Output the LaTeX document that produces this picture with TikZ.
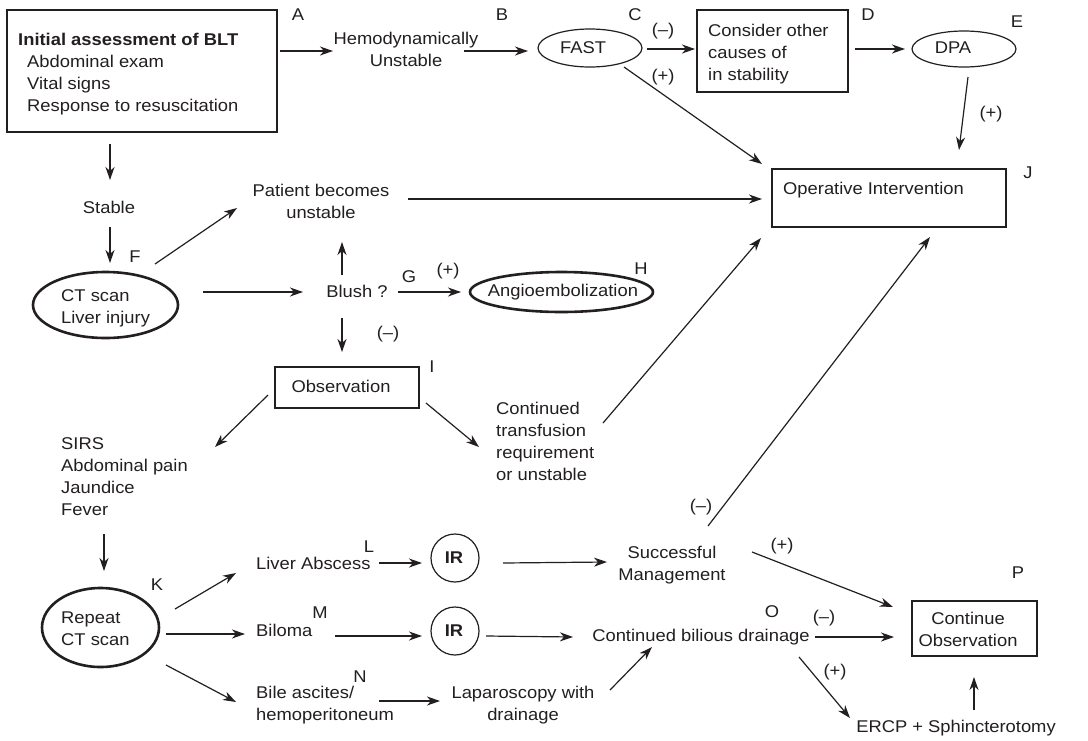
\documentclass[tikz,border=0pt]{standalone}
\usepackage{fontspec}
\setmainfont{Liberation Sans}[FakeStretch=1.08]
\usetikzlibrary{shapes.geometric,arrows.meta,calc}
\definecolor{ink}{HTML}{231F20}
\newcommand\fs{\fontsize{17pt}{22pt}\selectfont}
% arrow between two named points, each given with an offset
\newcommand\conn[4]{\draw[arr] ($(#1)+(#2)$) -- ($(#3)+(#4)$);}
\begin{document}
\begin{tikzpicture}[x=1pt,y=-1pt,
  every node/.style={font=\fs, inner sep=0pt, text=ink},
  arr/.style={draw=ink, line width=1.2pt, -{Stealth[length=13pt,width=9pt,inset=4pt]}},
  heavybox/.style={draw=ink, line width=2.6pt, rectangle},
  heavyoval/.style={draw=ink, line width=2.6pt, ellipse},
  lightoval/.style={draw=ink, line width=1.2pt, ellipse},
  lightcirc/.style={draw=ink, line width=1.2pt, circle, minimum size=48pt},
  tag/.style={font=\fs}]
\fill[white] (0,0) rectangle (1088,740);
\useasboundingbox (0,0) rectangle (1088,740);

% ---- frames and ovals ----
\node[heavybox, minimum width=270pt, minimum height=122pt] (init) at (142,71) {};
\node[lightoval, minimum width=104pt, minimum height=38pt] (fast) at (590,48) {};
\node[heavybox, minimum width=151pt, minimum height=82pt] (consider) at (772.5,51) {};
\node[lightoval, minimum width=104pt, minimum height=36pt] (dpa) at (964,49) {};
\node[heavybox, minimum width=234pt, minimum height=58pt] (oper) at (889,198) {};
\node[heavyoval, minimum width=145pt, minimum height=66pt] (ct) at (105.5,305) {};
\node[heavyoval, minimum width=183pt, minimum height=40pt] (angio) at (561.5,292) {};
\node[heavybox, minimum width=144pt, minimum height=41pt] (obs) at (347,387.5) {};
\node[heavyoval, minimum width=117pt, minimum height=79pt] (rep) at (100.5,627.5) {};
\node[lightcirc] (irA) at (455,558) {};
\node[lightcirc] (irB) at (455,631) {};
\node[heavybox, minimum width=125pt, minimum height=55pt] (cobs) at (974.5,628.5) {};

% ---- texts ----
\node[anchor=west, align=left] (initT) at (18,74)
  {\textbf{Initial assessment of BLT}\\\hspace*{9pt}Abdominal exam\\\hspace*{9pt}Vital signs\\\hspace*{9pt}Response to resuscitation};
\node[align=center] (hemo) at (406,49) {Hemodynamically\\Unstable};
\node (fastT) at (583,48) {FAST};
\node[anchor=west, align=left] (considerT) at (708,54) {Consider other\\causes of\\in stability};
\node (dpaT) at (953,48) {DPA};
\node[anchor=west] (operT) at (783,190) {Operative Intervention};
\node (stable) at (109,207) {Stable};
\node[anchor=west, align=left] (ctT) at (61,308) {CT scan\\Liver injury};
\node[align=center] (patient) at (321,201) {Patient becomes\\unstable};
\node (blush) at (357,291) {Blush ?};
\node (angioT) at (563,292) {Angioembolization};
\node (obsT) at (341,386) {Observation};
\node[anchor=west, align=left] (sirs) at (61,477) {SIRS\\Abdominal pain\\Jaundice\\Fever};
\node[anchor=west, align=left] (cont) at (496,441) {Continued\\transfusion\\requirement\\or unstable};
\node[anchor=west, align=left] (repT) at (61,629) {Repeat\\CT scan};
\node[anchor=west] (abscess) at (256,563) {Liver Abscess};
\node (irAT) at (454,558) {\textbf{IR}};
\node[align=center] (succ) at (672,565) {Successful\\Management};
\node[anchor=west] (biloma) at (256,630) {Biloma};
\node (irBT) at (454,631) {\textbf{IR}};
\node (cbd) at (701,637) {Continued bilious drainage};
\node[align=center] (cobsT) at (968,629.5) {Continue\\Observation};
\node (ercp) at (956,728) {ERCP + Sphincterotomy};
\node[anchor=west, align=left] (bile) at (256,705) {Bile ascites/\\hemoperitoneum};
\node[align=center] (lap) at (523,705) {Laparoscopy with\\drainage};

% ---- step letters ----
\node[tag] (tA) at (298,15) {A};
\node[tag] (tB) at (502,15) {B};
\node[tag] (tC) at (635,15) {C};
\node[tag] (tD) at (868,15) {D};
\node[tag] (tE) at (1017,22) {E};
\node[tag] (tF) at (135,257) {F};
\node[tag] (tG) at (409,277) {G};
\node[tag] (tH) at (641,269) {H};
\node[tag] (tI) at (432,367) {I};
\node[tag] (tJ) at (1028,173) {J};
\node[tag] (tK) at (157,585) {K};
\node[tag] (tL) at (369,547) {L};
\node[tag] (tM) at (320,613) {M};
\node[tag] (tN) at (360,677) {N};
\node[tag] (tO) at (772,612) {O};
\node[tag] (tP) at (1018,573) {P};

% ---- result signs ----
\node[tag] (sFm) at (663,31) {(–)};
\node[tag] (sFp) at (663,77) {(+)};
\node[tag] (sDp) at (991,114) {(+)};
\node[tag] (sBm) at (388,334) {(–)};
\node[tag] (sBp) at (448,271) {(+)};
\node[tag] (sSm) at (701,507) {(–)};
\node[tag] (sSp) at (782,546) {(+)};
\node[tag] (sCm) at (824,618) {(–)};
\node[tag] (sCp) at (835,672) {(+)};

% ---- connectors ----
\conn{init}{138,-20}{hemo}{-73,2}
\conn{hemo}{58,2}{fast}{-62,3}
\conn{fast}{57,1}{consider}{-77.5,-2}
\conn{consider}{82.5,-2}{dpa}{-59,0}
\conn{dpa}{4,28}{oper}{70,-48}
\conn{fast}{34,19}{oper}{-127,-34}
\conn{init}{-32,73}{stable}{1,-27}
\conn{stable}{1,20}{ct}{4.5,-42}
\conn{ct}{49.5,-41}{patient}{-84,7}
\conn{patient}{87,-2}{oper}{-127,1}
\conn{ct}{97.5,-13}{blush}{-54,1}
\conn{blush}{-15,-16}{patient}{21,41}
\conn{blush}{-15,27}{obs}{-5,-35.5}
\conn{blush}{41,1}{angio}{-100.5,0}
\conn{obs}{-79,7.5}{sirs.west}{154,-30}
\conn{obs}{79,15.5}{cont.west}{-17,6}
\conn{cont.west}{107,-18}{oper}{-128,40}
\conn{succ}{36,-39}{oper}{41,39}
\conn{sirs.west}{43,57}{rep}{3.5,-56.5}
\conn{rep}{74.5,-18.5}{abscess.west}{-20,10}
\conn{rep}{65.5,6.5}{biloma.west}{-11,4}
\conn{rep}{65.5,37.5}{bile.west}{-20,-3}
\conn{abscess.west}{123,0}{irA}{-33,5}
\conn{irA}{48,5}{succ}{-65,-3}
\conn{succ}{80,-13}{cobs}{-81.5,-21.5}
\conn{biloma.west}{79,6}{irB}{-33,5}
\conn{irB}{31,5}{cbd}{-128,0}
\conn{cbd}{114,0}{cobs}{-80.5,8.5}
\conn{cbd}{98,20}{ercp}{-106,-10}
\conn{ercp}{18,-18}{cobs}{-0.5,48.5}
\conn{bile.west}{123,-4}{lap}{-83,-4}
\conn{lap}{87,-15}{cbd}{-49,10}
\end{tikzpicture}
\end{document}
